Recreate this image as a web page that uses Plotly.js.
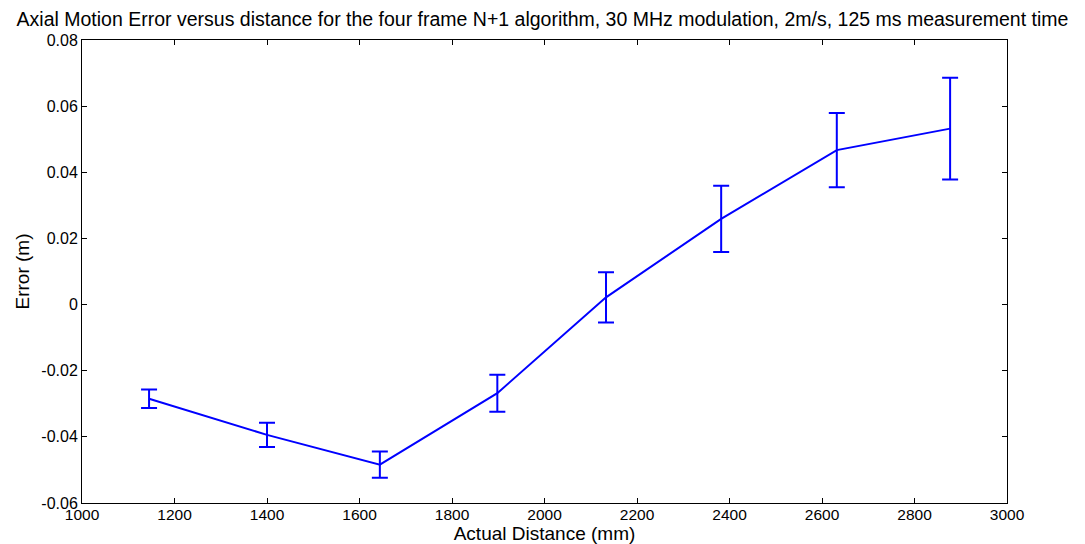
<!DOCTYPE html>
<html><head><meta charset="utf-8">
<script src="https://cdn.plot.ly/plotly-3.0.1.min.js"></script>
<style>body{margin:0;padding:0;background:#fff}#chart{width:1085px;height:544px}</style>
</head><body><div id="chart"></div>
<script>
const distance = [1145, 1400, 1644, 1898, 2133, 2382, 2632, 2877];
const errorMean = [-0.0285, -0.0394, -0.0484, -0.0268, 0.0022, 0.0259, 0.0467, 0.0532];
const errorBar = [0.0028, 0.0037, 0.0040, 0.0056, 0.0076, 0.0100, 0.0112, 0.0154];
const xTicks = [1000,1200,1400,1600,1800,2000,2200,2400,2600,2800,3000];
const yTicks = [-0.06,-0.04,-0.02,0,0.02,0.04,0.06,0.08];
const yTickText = ['-0.06','-0.04','-0.02','0','0.02','0.04','0.06','0.08'];

const font = {family: 'Liberation Sans, Arial, sans-serif', color: '#000'};
Plotly.newPlot('chart', [{
  x: distance, y: errorMean, type: 'scatter', mode: 'lines',
  line: {color: '#0000ff', width: 2},
  error_y: {type: 'data', array: errorBar, visible: true, color: '#0000ff', thickness: 2, width: 8}
}], {
  width: 1085, height: 544,
  margin: {l: 82, r: 78, t: 40, b: 41},
  paper_bgcolor: '#fff', plot_bgcolor: '#fff',
  showlegend: false,
  title: {text: 'Axial Motion Error versus distance for the four frame N+1 algorithm, 30 MHz modulation, 2m/s, 125 ms measurement time',
          font: Object.assign({size: 19.5}, font), x: 0.5, xanchor: 'center', y: 0.965, yanchor: 'middle'},
  xaxis: {range: [1000, 3000], tickvals: xTicks, ticks: 'inside', ticklen: 5, tickcolor: '#000',
          showline: true, linecolor: '#000', linewidth: 1, mirror: 'ticks', showgrid: false, zeroline: false,
          tickfont: Object.assign({size: 15.5}, font), ticklabelstandoff: -3,
          title: {text: 'Actual Distance (mm)', font: Object.assign({size: 19}, font), standoff: 0}},
  yaxis: {range: [-0.06, 0.08], tickvals: yTicks, ticktext: yTickText, ticks: 'inside', ticklen: 5, tickcolor: '#000',
          showline: true, linecolor: '#000', linewidth: 1, mirror: 'ticks', showgrid: false, zeroline: false,
          tickfont: Object.assign({size: 16}, font),
          title: {text: 'Error (m)', font: Object.assign({size: 19}, font), standoff: 6}}
}, {displayModeBar: false, staticPlot: true});
</script></body></html>
